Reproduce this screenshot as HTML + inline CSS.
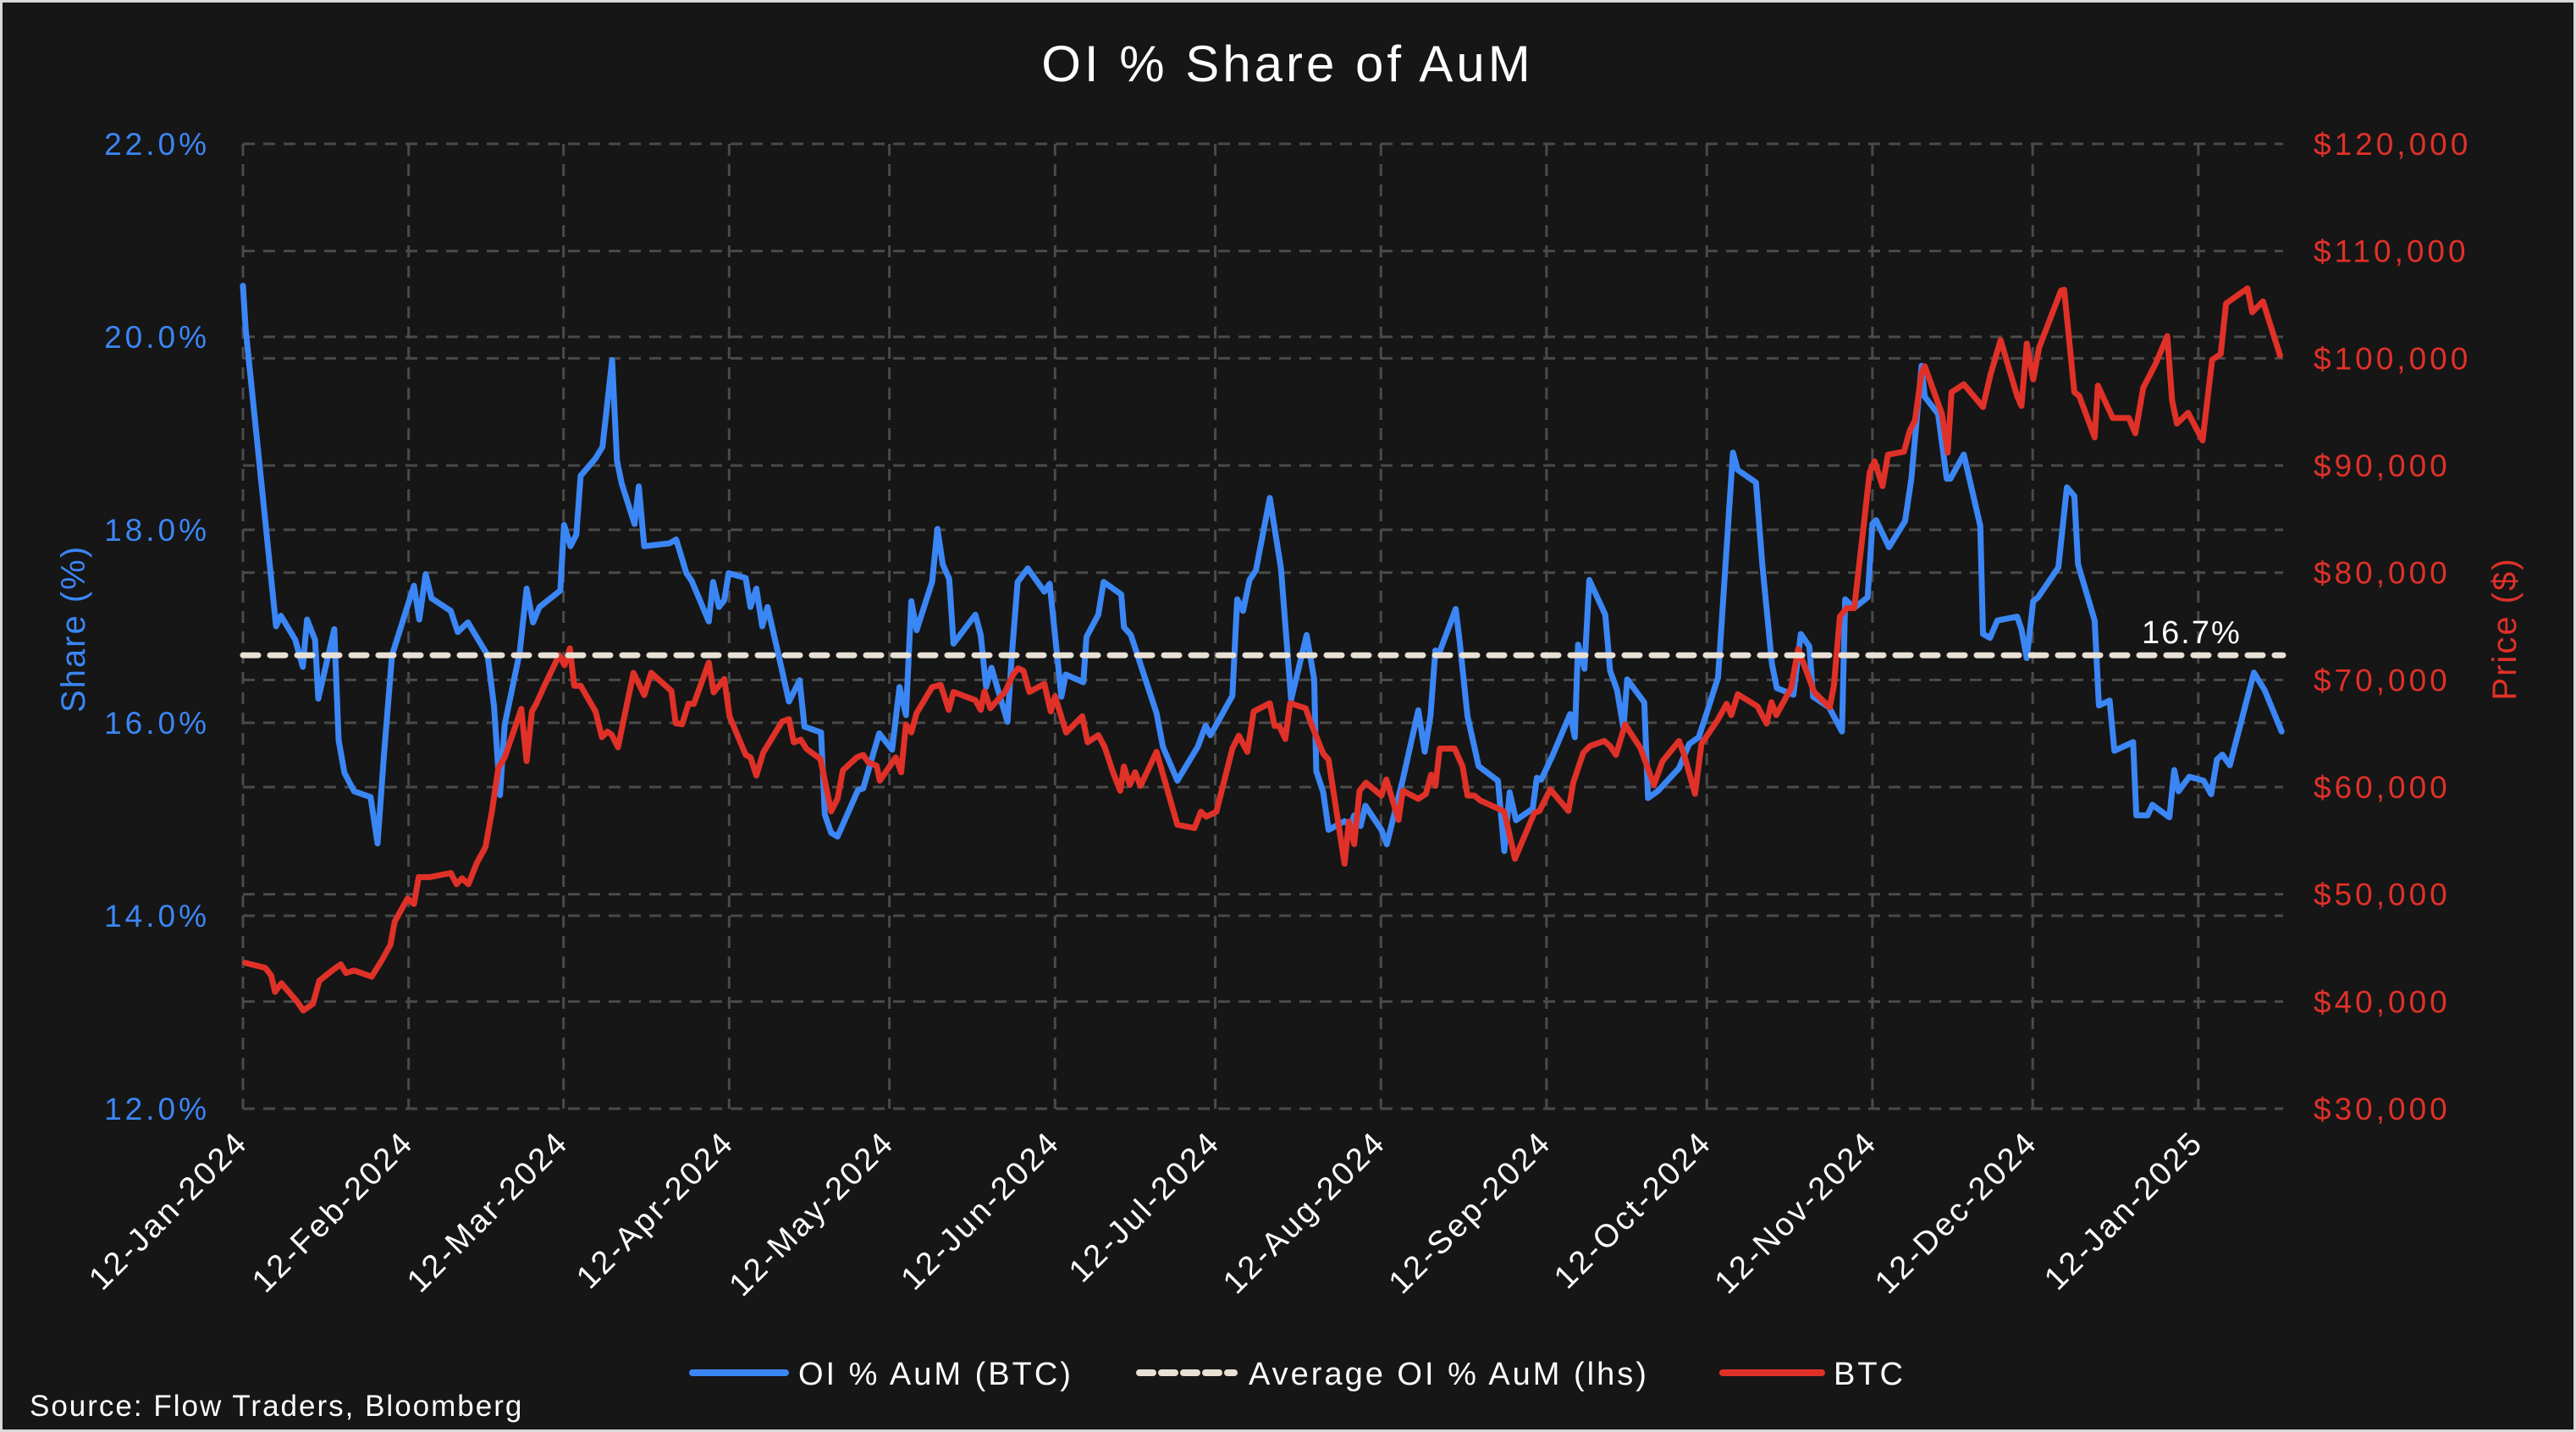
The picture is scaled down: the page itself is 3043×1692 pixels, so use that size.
<!DOCTYPE html>
<html><head><meta charset="utf-8"><style>
html,body{margin:0;padding:0;background:#161616;}
svg{display:block;}
text{font-family:"Liberation Sans",sans-serif;letter-spacing:2px;}
</style></head><body>
<svg id="chart" width="3043" height="1692" viewBox="0 0 3043 1692" xmlns="http://www.w3.org/2000/svg">
<rect x="0" y="0" width="3043" height="1692" fill="#161616" stroke="#d9d9d9" stroke-width="6"/>
<text x="1521" y="96" font-size="60" fill="#ffffff" text-anchor="middle" style="letter-spacing:4px">OI % Share of AuM</text>
<g id="grid"></g>
<g id="axes"></g>
<g id="series"></g>
<text transform="translate(100,743) rotate(-90)" font-size="40" fill="#3b86f5" text-anchor="middle">Share (%)</text>
<text transform="translate(2972,743) rotate(-90)" font-size="40" fill="#e03128" text-anchor="middle">Price ($)</text>
<g>
  <g>
    <line x1="818" y1="1622" x2="928" y2="1622" stroke="#3b86f5" stroke-width="8" stroke-linecap="round"/>
    <text x="943" y="1636" font-size="38" fill="#ffffff" style="letter-spacing:3px">OI % AuM (BTC)</text>
  </g>
  <g>
    <line x1="1346" y1="1622" x2="1458" y2="1622" stroke="#e8e0d4" stroke-width="8" stroke-dasharray="16,10" stroke-linecap="round"/>
    <text x="1475" y="1636" font-size="38" fill="#ffffff" style="letter-spacing:3px">Average OI % AuM (lhs)</text>
  </g>
  <g>
    <line x1="2035" y1="1622" x2="2152" y2="1622" stroke="#e03128" stroke-width="8" stroke-linecap="round"/>
    <text x="2166" y="1636" font-size="38" fill="#ffffff" style="letter-spacing:3px">BTC</text>
  </g>
</g>
<text x="35" y="1673" font-size="35" fill="#ffffff">Source: Flow Traders, Bloomberg</text>
</svg>
<script>
const tickDays = [0,31,60,91,121,152,182,213,244,274,305,335,366];
const tickLabels = ["12-Jan-2024","12-Feb-2024","12-Mar-2024","12-Apr-2024","12-May-2024","12-Jun-2024","12-Jul-2024","12-Aug-2024","12-Sep-2024","12-Oct-2024","12-Nov-2024","12-Dec-2024","12-Jan-2025"];
const leftTicks = [12,14,16,18,20,22];
const rightTicks = [30000,40000,50000,60000,70000,80000,90000,100000,110000,120000];
const avgValue = 16.7;
const oiDays = [0,0.5,6.2,7.1,9.8,11.2,12,13.5,14.1,17.1,17.9,19,20.8,23.9,25.2,26.4,27.9,30.8,32,33,34.2,35.3,38.9,40.2,42.1,45.8,47,48.1,49,51.8,53.1,54.3,55.5,59.4,60.1,61.3,62.4,63.2,66,67.3,69.1,70,70.9,73.3,74.1,75.1,79.8,81.1,83,84,87.2,88,89.1,90.1,90.9,94.1,95,96.1,97.2,98.2,100.8,102.2,104.2,105.1,108.2,108.9,110.1,111.3,115.1,116.1,119.1,121.5,122.9,124.1,125.1,126.1,129,130,131,132.2,133,137.1,138.1,139.1,140.1,143.1,143.9,145,146.9,150,151,153.2,154,157.3,157.9,160.1,161.1,164.4,164.9,166.2,171,172.2,174.9,178.7,180.2,181.1,185.2,186.1,187.2,188.4,189.6,192.2,194.3,196.2,199.1,200.5,200.9,202.2,203.2,206.2,207.3,208,209.2,210.1,213.1,214.1,217.1,220,221.2,222.3,223.2,223.9,227,227.8,229.2,231.3,234.9,236.1,237.1,238.3,241.4,242.2,243,245.2,248.4,249.3,249.9,251.1,252,255,255.9,257.2,258.4,259.1,262.3,263,264.8,268.8,270.7,272.5,274.1,276.1,278.9,279.8,283.2,284.4,286.2,287.1,290.2,291.6,293.2,293.9,296.9,299.3,299.9,301.6,304.1,305,305.7,308.1,311.1,312.3,314.2,314.8,317.3,318.9,319.6,322.1,325.2,325.7,327,328.4,332.1,332.9,333.9,335.1,336,339.8,341.4,342.8,343.5,346.6,347.4,349.4,350.3,353.8,354.4,356.5,357.4,360.6,361.5,362.3,364.3,367,368.4,369.5,370.5,371.9,376.4,378.4,381.6];
const oiValues = [20.53,20.08,17.0,17.11,16.86,16.58,17.07,16.86,16.25,16.97,15.82,15.48,15.29,15.23,14.75,15.67,16.70,17.21,17.42,17.07,17.54,17.29,17.16,16.94,17.04,16.70,16.17,15.25,15.98,16.73,17.39,17.04,17.20,17.37,18.05,17.83,17.95,18.56,18.74,18.86,19.76,18.72,18.48,18.06,18.45,17.83,17.86,17.90,17.55,17.47,17.05,17.46,17.20,17.27,17.55,17.50,17.20,17.39,17.0,17.20,16.57,16.22,16.44,15.96,15.90,15.05,14.86,14.82,15.30,15.32,15.89,15.72,16.37,16.08,17.26,16.96,17.46,18.01,17.64,17.49,16.82,17.12,16.91,16.37,16.57,16.01,16.69,17.46,17.60,17.36,17.44,16.27,16.50,16.42,16.89,17.12,17.46,17.33,16.99,16.91,16.10,15.75,15.40,15.75,15.97,15.87,16.28,17.28,17.16,17.48,17.58,18.33,17.60,16.24,16.91,16.45,15.50,15.28,14.89,14.98,14.93,15.04,14.93,15.14,14.89,14.74,15.41,16.13,15.70,16.08,16.75,16.72,17.18,16.82,16.07,15.55,15.40,14.67,15.28,14.99,15.11,15.43,15.41,15.67,16.09,15.85,16.81,16.56,17.48,17.12,16.54,16.34,15.94,16.45,16.21,15.22,15.29,15.53,15.78,15.85,16.12,16.47,18.80,18.62,18.49,17.64,16.61,16.36,16.29,16.92,16.79,16.27,16.16,15.91,17.28,17.19,17.30,18.06,18.10,17.82,18.09,18.53,19.70,19.38,19.20,18.53,18.53,18.78,18.04,16.92,16.88,17.06,17.10,16.97,16.67,17.26,17.30,17.61,18.44,18.35,17.64,17.06,16.18,16.23,15.71,15.80,15.04,15.04,15.15,15.02,15.51,15.29,15.44,15.40,15.26,15.62,15.67,15.56,16.52,16.34,15.91];
const btcDays = [0.4,4.2,5.3,6,7.2,10.2,11.3,13.1,14.3,16.7,18.3,19.3,20.8,24.1,26,27.6,28.4,30.8,32,32.9,34.9,38.9,40,41,42.2,43.8,45.4,46.6,47.8,49,52.1,53.1,54.1,54.9,56.3,59.2,60.2,61.2,62,63.2,66,67.2,68.2,69,70.2,73.1,75.1,76.4,80.2,81,82.2,83.4,84.4,87.2,88.1,90.1,91.1,94.1,95,96.1,97.4,100.9,102.2,103.1,104.4,105.5,108.1,110.1,111.3,112.3,114.9,116.1,117.1,118.6,119.2,122.2,123.2,124.1,125.1,126.1,129,130.6,132.1,133,137.1,138.1,138.8,139.9,142.7,144.2,145.1,146.1,147.2,150,151.2,152,154.1,157.1,158.1,160.1,161.3,162.9,164.2,164.9,166,167,168,171,174.9,178.1,179.3,180.3,182.2,185.2,186.4,188,189.2,192.2,193.1,194,195.1,196,198.9,200,202.2,203.2,206.2,207,208,209,210.2,213.1,214,216.3,217.1,220,221.4,222.4,223.2,224,226.8,228.3,229.2,230.5,231.6,234.9,236.1,238.1,241.7,242.7,244.7,248.1,249,250.9,252.1,254.8,255.9,257,258.7,261.6,264.1,265.7,268.8,269.7,271.8,273,276.1,277.7,278.6,279.8,283.5,285.2,286.1,287,289.8,291.1,294.1,297,297.8,298.9,300.2,301.6,302.9,304.5,305.4,306.9,307.9,310.9,312,313,314.2,314.8,318,319.1,319.8,322.1,325.7,327.1,329,332.1,332.9,333.9,335.1,336.2,340.3,340.9,342.8,343.7,346.6,347.2,350,353,354.2,355.7,358,360.2,361.1,362,364.1,366.8,368.6,370.2,371.2,375.2,376.1,378.1,381.3];
const btcValues = [43610,43140,42420,40900,41700,39950,39160,39790,41940,42890,43470,42660,42890,42320,43860,45290,47450,49600,49100,51600,51600,51990,50940,51500,50940,52940,54400,57730,61800,62770,67300,62420,67060,67780,69320,72320,71370,72950,69450,69450,67060,64660,65170,64900,63710,70660,68590,70660,68970,65960,65860,67780,67760,71610,68840,70070,66580,63000,62770,61080,63240,66100,66340,64180,64420,63560,62610,57730,58930,61560,62770,63000,62290,62000,60600,62770,61380,65850,65090,66910,69320,69540,67210,68870,68110,67210,68930,67360,68930,70530,71080,70850,68870,69630,67060,68460,65090,66610,64180,64850,63730,61320,59660,61920,60200,61380,60110,63290,56490,56180,57700,57240,57700,63590,64790,63290,67060,67820,65700,65700,64490,67820,67360,65850,63130,62560,52850,56780,54680,59660,60410,59210,60710,56940,59660,58900,59360,61170,60110,63590,63590,61920,59210,59210,58750,58000,57700,53310,57580,57800,59790,57780,60400,63210,63820,64300,63820,63000,65840,63620,60190,62400,64300,63100,59380,64030,66320,67770,66720,68660,67520,65920,67920,66720,69250,72880,68860,67440,69480,75900,76700,76700,82340,89390,90390,88070,91000,91290,93240,94230,98660,99260,94830,91210,96840,97580,95450,98460,101690,96450,95560,101370,98030,101000,106310,106400,96840,96500,92620,97450,94430,94430,93010,97250,99470,102070,96040,93910,94910,92340,99870,100390,105100,106520,104300,105310,100270];

const NS = "http://www.w3.org/2000/svg";
const X0 = 287, PXDAY = 6.311, XEND = 2697;
const YTOP = 170, YBOT = 1310;
function xScale(d){ return X0 + d * PXDAY; }
function yLeft(v){ return YBOT - (v - 12) / (22 - 12) * (YBOT - YTOP); }
function yRight(p){ return YBOT - (p - 30000) / (120000 - 30000) * (YBOT - YTOP); }
function mk(tag, attrs, parent){
  const el = document.createElementNS(NS, tag);
  for (const k in attrs) el.setAttribute(k, attrs[k]);
  parent.appendChild(el);
  return el;
}
const grid = document.getElementById('grid');
const axes = document.getElementById('axes');
const series = document.getElementById('series');

tickDays.forEach((d, i) => {
  const x = xScale(d);
  const gl = mk('line', {x1:x, y1:YTOP, x2:x, y2:YBOT, stroke:'#4a4a4a', 'stroke-width':3, 'stroke-dasharray':'14,10'}, grid);
  
  
  const t = mk('text', {transform:`translate(${x+8},${YBOT+42}) rotate(-45)`, 'font-size':38, fill:'#ffffff', 'text-anchor':'end', style:'letter-spacing:3px'}, axes);
  t.textContent = tickLabels[i];
  
  
});
leftTicks.forEach(v => {
  const y = yLeft(v);
  const gl = mk('line', {x1:X0, y1:y, x2:XEND, y2:y, stroke:'#4a4a4a', 'stroke-width':3, 'stroke-dasharray':'14,10'}, grid);
  
  
  const t = mk('text', {x:248, y:y+13, 'font-size':37, fill:'#3b86f5', 'text-anchor':'end', style:'letter-spacing:4px'}, axes);
  t.textContent = v.toFixed(1) + '%';
  
  
});
rightTicks.forEach(p => {
  const y = yRight(p);
  const gl = mk('line', {x1:X0, y1:y, x2:XEND, y2:y, stroke:'#4a4a4a', 'stroke-width':3, 'stroke-dasharray':'14,10'}, grid);
  
  
  const t = mk('text', {x:2733, y:y+13, 'font-size':37, fill:'#e03128', style:'letter-spacing:4px'}, axes);
  t.textContent = '$' + p.toLocaleString('en-US');
  
  
});

function pathFrom(days, vals, yf){
  return days.map((d, i) => (i ? 'L' : 'M') + xScale(d).toFixed(1) + ',' + yf(vals[i]).toFixed(1)).join(' ');
}
const oiLine = mk('path', {d:pathFrom(oiDays, oiValues, yLeft), fill:'none', stroke:'#3b86f5', 'stroke-width':7, 'stroke-linejoin':'round', 'stroke-linecap':'round'}, series);


const btcLine = mk('path', {d:pathFrom(btcDays, btcValues, yRight), fill:'none', stroke:'#e03128', 'stroke-width':7, 'stroke-linejoin':'round', 'stroke-linecap':'round'}, series);


const ay = yLeft(avgValue);
const avgLine = mk('line', {x1:X0, y1:ay, x2:XEND, y2:ay, stroke:'#e8e0d4', 'stroke-width':7, 'stroke-dasharray':'18,14', 'stroke-linecap':'round'}, series);


const avgLabel = mk('text', {x:2530, y:ay-14, 'font-size':38, fill:'#ffffff'}, series);
avgLabel.textContent = avgValue.toFixed(1) + '%';


</script>
</body></html>
